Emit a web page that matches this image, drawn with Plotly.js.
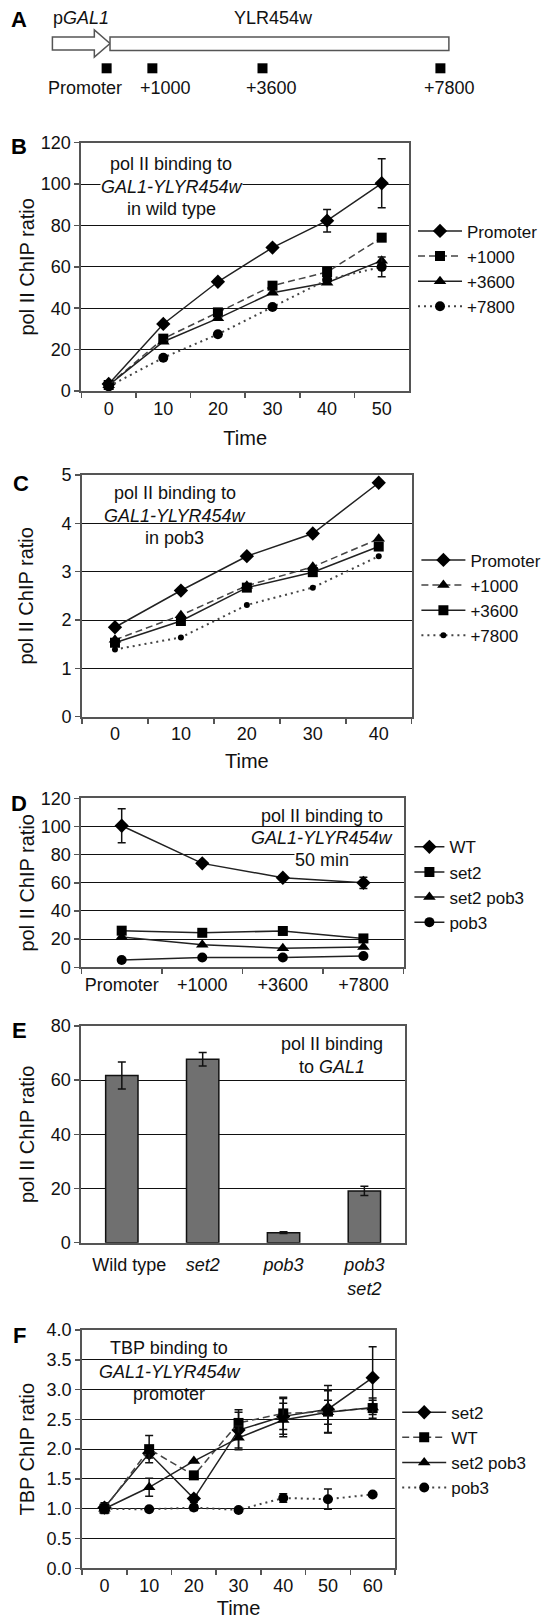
<!DOCTYPE html>
<html><head><meta charset="utf-8">
<script src="https://cdn.plot.ly/plotly-3.0.1.min.js"></script>
<style>html,body{margin:0;padding:0;background:#fff;}#chart{width:548px;height:1619px;}</style>
</head><body><div id="chart"></div>
<script>
// ---------- Panel A: gene map ----------
const siteNames = ['Promoter', '+1000', '+3600', '+7800'];
const sitePositions = [-80, 1000, 3600, 7800];   // bp relative to ORF start
const geneLength = 8000;
const promoterLength = 1360;

// ---------- Panel B: pol II in wild type ----------
const timesB = ['0', '10', '20', '30', '40', '50'];
const bPromoter = [3.4, 32.4, 52.8, 69.3, 82.3, 100.4];
const bPromoterErr = [0, 0, 0, 0, 5.4, 11.8];
const b1000 = [2.9, 25.3, 38.0, 50.9, 57.5, 74.1];
const b3600 = [2.8, 23.8, 35.1, 47.5, 52.3, 63.0];
const b7800 = [2.2, 16.1, 27.4, 40.6, 53.8, 60.0];
const b7800Err = [0, 0, 0, 0, 0, 4.8];

// ---------- Panel C: pol II in pob3 ----------
const timesC = ['0', '10', '20', '30', '40'];
const cPromoter = [1.85, 2.61, 3.32, 3.79, 4.84];
const c1000 = [1.59, 2.10, 2.71, 3.10, 3.68];
const c3600 = [1.53, 1.98, 2.67, 2.99, 3.52];
const c7800 = [1.39, 1.64, 2.31, 2.67, 3.32];

// ---------- Panel D: pol II at 50 min ----------
const sitesD = ['Promoter', '+1000', '+3600', '+7800'];
const dWT = [100.5, 73.8, 63.6, 60.0];
const dWTErr = [12, 0, 0, 4];
const dSet2 = [26.0, 24.5, 25.8, 20.5];
const dSet2Pob3 = [21.5, 16.0, 13.5, 14.5];
const dPob3 = [5.2, 7.0, 7.0, 8.0];

// ---------- Panel E: pol II at GAL1 ----------
const strainsE = ['Wild type', 'set2', 'pob3', 'pob3 set2'];
const eValues = [61.7, 67.7, 3.7, 19.1];
const eErr = [5.0, 2.5, 0.3, 1.7];

// ---------- Panel F: TBP at promoter ----------
const timesF = ['0', '10', '20', '30', '40', '50', '60'];
const fSet2 = [1.02, 1.93, 1.17, 2.32, 2.55, 2.67, 3.20];
const fSet2Err = [0.08, 0.08, 0.06, 0.30, 0.30, 0.40, 0.52];
const fWT = [1.00, 2.00, 1.56, 2.44, 2.60, 2.63, 2.69];
const fWTErr = [0.08, 0.23, 0, 0.22, 0.27, 0.35, 0.17];
const fSet2Pob3 = [1.00, 1.36, 1.80, 2.19, 2.49, 2.62, 2.70];
const fSet2Pob3Err = [0.05, 0.15, 0, 0.20, 0.28, 0.20, 0.12];
const fPob3 = [1.00, 0.99, 1.02, 0.98, 1.18, 1.16, 1.24];
const fPob3Err = [0.05, 0, 0.05, 0, 0.07, 0.17, 0];

// ---------- layout helpers ----------
const W = 548, H = 1619;
const FONT = 'Liberation Sans, Arial, sans-serif';
const px = v => v / W;
const py = v => 1 - v / H;

const SOLID = {color: '#222', width: 1.5};
const DASHED = {color: '#444', width: 1.5, dash: '7px,4px'};
const DOTTED = {color: '#444', width: 2, dash: '2px,4px'};
const MK = {
  diamond: {symbol: 'diamond', size: 11, color: '#000'},
  square: {symbol: 'square', size: 10, color: '#000'},
  triangle: {symbol: 'triangle-up', size: 11, color: '#000'},
  circle: {symbol: 'circle', size: 10, color: '#000'},
  dot: {symbol: 'circle', size: 6, color: '#000'}
};
function err(arr) {
  return {type: 'data', array: arr, visible: true, color: '#111', thickness: 1.5, width: 4};
}
function series(x, y, name, xa, ya, line, marker, legend, errArr) {
  const t = {type: 'scatter', mode: 'lines+markers', x: x, y: y, name: name,
    xaxis: xa, yaxis: ya, line: line, marker: marker, legend: legend, cliponaxis: false};
  if (errArr) t.error_y = err(errArr);
  return t;
}

const traces = [];
// A
traces.push({type: 'scatter', mode: 'markers', x: sitePositions, y: sitePositions.map(() => 68.3),
  xaxis: 'x', yaxis: 'y', marker: {symbol: 'square', size: 10, color: '#000'}, showlegend: false, hoverinfo: 'skip'});
// B
traces.push(series(timesB, bPromoter, 'Promoter', 'x2', 'y2', SOLID, MK.diamond, 'legend', bPromoterErr));
traces.push(series(timesB, b1000, '+1000', 'x2', 'y2', DASHED, MK.square, 'legend'));
traces.push(series(timesB, b3600, '+3600', 'x2', 'y2', SOLID, MK.triangle, 'legend'));
traces.push(series(timesB, b7800, '+7800', 'x2', 'y2', DOTTED, MK.circle, 'legend', b7800Err));
// C
traces.push(series(timesC, cPromoter, 'Promoter', 'x3', 'y3', SOLID, MK.diamond, 'legend2'));
traces.push(series(timesC, c1000, '+1000', 'x3', 'y3', DASHED, MK.triangle, 'legend2'));
traces.push(series(timesC, c3600, '+3600', 'x3', 'y3', SOLID, MK.square, 'legend2'));
traces.push(series(timesC, c7800, '+7800', 'x3', 'y3', DOTTED, MK.dot, 'legend2'));
// D
traces.push(series(sitesD, dWT, 'WT', 'x4', 'y4', SOLID, MK.diamond, 'legend3', dWTErr));
traces.push(series(sitesD, dSet2, 'set2', 'x4', 'y4', SOLID, MK.square, 'legend3'));
traces.push(series(sitesD, dSet2Pob3, 'set2 pob3', 'x4', 'y4', SOLID, MK.triangle, 'legend3'));
traces.push(series(sitesD, dPob3, 'pob3', 'x4', 'y4', SOLID, MK.circle, 'legend3'));
// E
traces.push({type: 'bar', x: strainsE, y: eValues, xaxis: 'x5', yaxis: 'y5', width: 0.4,
  marker: {color: '#707070', line: {color: '#111', width: 1.5}}, error_y: err(eErr), showlegend: false});
// F
traces.push(series(timesF, fSet2, 'set2', 'x6', 'y6', SOLID, MK.diamond, 'legend4', fSet2Err));
traces.push(series(timesF, fWT, 'WT', 'x6', 'y6', DASHED, MK.square, 'legend4', fWTErr));
traces.push(series(timesF, fSet2Pob3, 'set2 pob3', 'x6', 'y6', SOLID, MK.triangle, 'legend4', fSet2Pob3Err));
traces.push(series(timesF, fPob3, 'pob3', 'x6', 'y6', DOTTED, MK.circle, 'legend4', fPob3Err));

function xAx(x0, x1, anchor, n, title, standoff, opts) {
  const a = {domain: [px(x0), px(x1)], anchor: anchor, type: 'category', range: [-0.5, n - 0.5],
    tickson: 'boundaries', ticks: 'outside', ticklen: 5, tickwidth: 1.5, tickcolor: '#555',
    showline: true, linecolor: '#555', linewidth: 2, mirror: true, showgrid: false, zeroline: false,
    tickangle: 0, tickfont: {size: 18, color: '#111'}, fixedrange: true};
  if (title) a.title = {text: title, font: {size: 20, color: '#111'}, standoff: standoff};
  return Object.assign(a, opts || {});
}
function yAx(y0, y1, anchor, range, dtick, title, standoff, opts) {
  const a = {domain: [py(y1), py(y0)], anchor: anchor, range: range, dtick: dtick,
    ticks: 'outside', ticklen: 5, tickwidth: 1.5, tickcolor: '#555',
    showline: true, linecolor: '#555', linewidth: 2, mirror: true,
    showgrid: true, gridcolor: '#111', gridwidth: 1, zeroline: false,
    tickfont: {size: 18, color: '#111'}, fixedrange: true,
    title: {text: title, font: {size: 20, color: '#111'}, standoff: standoff}};
  return Object.assign(a, opts || {});
}

function ann(text, x, y, opts) {
  return Object.assign({text: text, xref: 'paper', yref: 'paper', x: px(x), y: py(y),
    xanchor: 'center', yanchor: 'middle', showarrow: false, font: {size: 18, color: '#111'}}, opts || {});
}
function letter(t, x, y) {
  return ann('<b>' + t + '</b>', x, y, {font: {size: 22, color: '#000'}});
}
function legendAt(x, y, iw) {
  return {x: px(x), y: py(y), xanchor: 'left', yanchor: 'top', bgcolor: 'rgba(0,0,0,0)',
    font: {size: 17, color: '#111'}, itemwidth: iw, tracegroupgap: 0, traceorder: 'normal'};
}

const WHITE = {bgcolor: '#fff', borderpad: 0};

const layout = {
  width: W, height: H, margin: {l: 0, r: 0, t: 0, b: 0},
  paper_bgcolor: '#fff', plot_bgcolor: '#fff',
  font: {family: FONT, color: '#111'},
  showlegend: true,
  // A
  xaxis: {domain: [0, 1], range: [-2597, 10340], visible: false, fixedrange: true},
  yaxis: {domain: [py(100), 1], range: [100, 0], visible: false, fixedrange: true},
  // B
  xaxis2: xAx(81.4, 409, 'y2', timesB.length, 'Time', 13),
  yaxis2: yAx(142.7, 391, 'x2', [0, 120], 20, 'pol II ChIP ratio', 1),
  // C
  xaxis3: xAx(82, 411.7, 'y3', timesC.length, 'Time', 11),
  yaxis3: yAx(475, 716.7, 'x3', [0, 5], 1, 'pol II ChIP ratio', 22),
  // D
  xaxis4: xAx(81.4, 403.7, 'y4', sitesD.length, null, 0),
  yaxis4: yAx(798.3, 967.3, 'x4', [0, 120], 20, 'pol II ChIP ratio', 1),
  // E
  xaxis5: xAx(81.4, 404.8, 'y5', strainsE.length, null, 0, {
    tickson: 'labels', tickcolor: 'rgba(0,0,0,0)', tickvals: strainsE,
    ticktext: strainsE.map(s => s === 'Wild type' ? '&nbsp;&nbsp;&nbsp;' + s :
      s.split(' ').map(w => '<i>' + w + '</i>').join('<br>'))}),
  yaxis5: yAx(1026, 1242.7, 'x5', [0, 80], 20, 'pol II ChIP ratio', 11),
  // F
  xaxis6: xAx(82.1, 395, 'y6', timesF.length, 'Time', 8),
  yaxis6: yAx(1330, 1568.3, 'x6', [0, 4], 0.5, 'TBP ChIP ratio', 6, {tickformat: '.1f'}),
  bargap: 0.6,
  legend: legendAt(413, 213.4, 44),
  legend2: legendAt(416.4, 542.4, 44),
  legend3: legendAt(409.4, 829.3, 30),
  legend4: legendAt(397.2, 1394.7, 44),
  shapes: [
    {type: 'path', xref: 'x', yref: 'y',
     path: 'M' + (-promoterLength) + ',37 L-370,37 L-370,30 L0,43.5 L-370,57 L-370,50 L' + (-promoterLength) + ',50 Z',
     line: {color: '#555', width: 1.5}, fillcolor: '#fff'},
    {type: 'rect', xref: 'x', yref: 'y', x0: 0, x1: geneLength, y0: 37, y1: 50.5,
     line: {color: '#555', width: 1.5}, fillcolor: '#fff'}
  ],
  annotations: [
    letter('A', 19.2, 20),
    ann('p<i>GAL1</i>', 50.7, 18.3, {xanchor: 'left'}),
    ann('YLR454w', 273.6, 18.3),
    ann(siteNames[0], 84.7, 88.3), ann(siteNames[1], 165, 88.3),
    ann(siteNames[2], 271, 88.3), ann(siteNames[3], 449, 88.3),
    letter('B', 19.2, 146.7),
    ann('pol II binding to', 171.3, 164),
    ann('<i>GAL1-YLYR454w</i>', 171.3, 187.3, WHITE),
    ann('in wild type', 171.3, 208.7),
    letter('C', 21, 483.3),
    ann('pol II binding to', 174.8, 493.3),
    ann('<i>GAL1-YLYR454w</i>', 174.8, 516),
    ann('in pob3', 174.8, 538.3),
    letter('D', 19.2, 803.3),
    ann('pol II binding to', 321.6, 815.7),
    ann('<i>GAL1-YLYR454w</i>', 321.6, 838.3),
    ann('50 min', 321.6, 860, WHITE),
    letter('E', 19.2, 1030),
    ann('pol II binding', 331.7, 1044),
    ann('to <i>GAL1</i>', 331.7, 1066.7),
    letter('F', 19.2, 1335.7),
    ann('TBP binding to', 169, 1348.3),
    ann('<i>GAL1-YLYR454w</i>', 169, 1371.7),
    ann('promoter', 169, 1394)
  ]
};

Plotly.newPlot('chart', traces, layout, {staticPlot: true, displayModeBar: false});
</script></body></html>
